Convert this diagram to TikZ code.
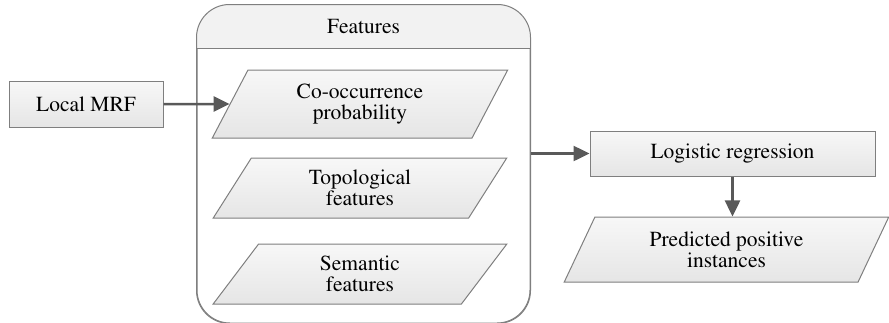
\documentclass[tikz,border=0pt]{standalone}
\usepackage[T1]{fontenc}
\usepackage{mathptmx}
\usetikzlibrary{%
	arrows.meta,%
	calc,%
	positioning,%
	shapes.geometric
}
\definecolor{edgegray}{HTML}{7F7F7F}
\definecolor{arrowgray}{HTML}{595959}
\tikzset{
	txt/.style={font=\fontsize{21.5}{21}\selectfont},
	base/.style={txt, draw=edgegray, line width=1pt, top color=white!97!black, bottom color=black!10, align=center, inner sep=0pt},
	procbox/.style={base, rectangle},
	databox/.style={base, trapezium, trapezium left angle=63.4, trapezium right angle=116.6, trapezium stretches=true},
	flow/.style={->, draw=arrowgray, line width=2.5pt}
}

\begin{document}
\begin{tikzpicture}[x=1pt, y=-1pt, >={Triangle[length=16pt,width=15pt]}]
				\useasboundingbox (0,0) rectangle (889,322);
				
				% Features container
				\node[draw=edgegray, line width=1pt, rounded corners=33pt, minimum width=333pt, minimum height=318pt, inner sep=0pt] (feat) at (363.5,164) {};
				\begin{scope}
					\clip (197,5) rectangle (530,48);
					\fill[black!5, rounded corners=33pt] (feat.south west) rectangle (feat.north east);
				\end{scope}
				\draw[draw=edgegray, line width=1pt, rounded corners=33pt] (feat.south west) rectangle (feat.north east);
				\draw[draw=edgegray, line width=1pt] (197,48) -- (530,48);
				\node[txt] (feathdr) at (363.5,27) {Features};
				
				% Nodes
				\node[procbox, minimum width=154pt, minimum height=46pt] (mrf) at (86,104) {Local MRF};
				\node[databox, minimum width=296pt, minimum height=68pt] (cooc) at (360,104) {Co-occurrence\\probability};
				\node[databox, minimum width=294pt, minimum height=60pt] (topo) at (360,188) {Topological\\features};
				\node[databox, minimum width=294pt, minimum height=60pt] (sema) at (360,274) {Semantic\\features};
				\node[procbox, minimum width=285pt, minimum height=45pt] (logit) at (732.5,153.5) {Logistic regression};
				\node[databox, minimum width=325pt, minimum height=65pt] (pred) at (726.5,249.5) {Predicted positive\\instances};
				
				% Arrows
				\draw[flow] (mrf.east) -- (cooc.west);
				\draw[flow] (feat.east |- logit) -- (logit.west);
				\draw[flow] (logit.south) -- (logit.south |- pred.north);
			\end{tikzpicture}
\end{document}
